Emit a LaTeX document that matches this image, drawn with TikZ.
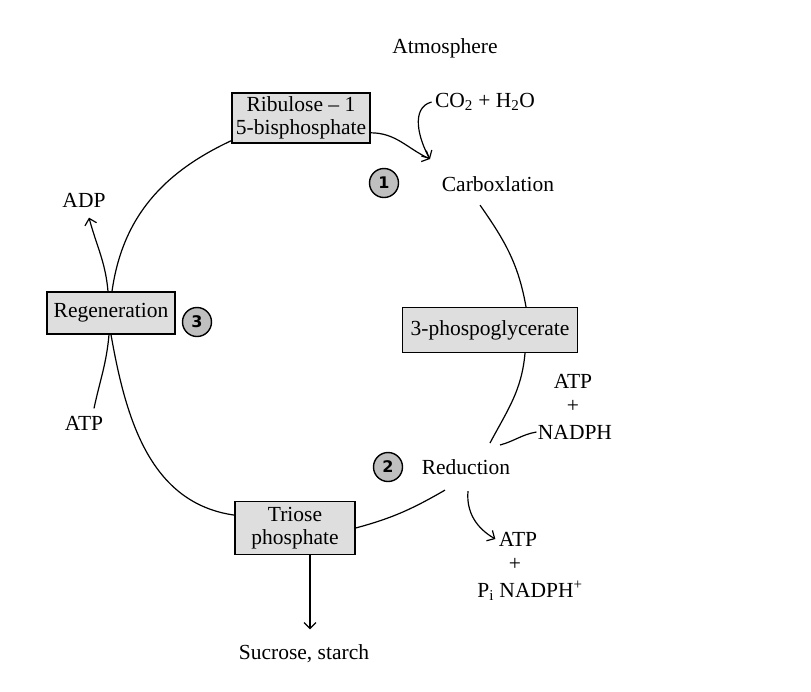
\documentclass[tikz,border=0pt]{standalone}
\usepackage{fontspec}
\setmainfont{Liberation Serif}
\newfontfamily\numfont{DejaVu Sans}
\usetikzlibrary{arrows.meta}

\tikzset{
    stagebox/.style={draw, line width=1.3pt, fill=black!13, inner sep=2pt, align=center},
    stepnum/.style={circle, draw, line width=1.4pt, fill=black!25, minimum size=29pt,
                    inner sep=0pt, font=\numfont\bfseries\fontsize{16}{16}\selectfont},
}

\begin{document}
\begin{tikzpicture}[x=1pt, y=-1pt]
\useasboundingbox (0,0) rectangle (811,691);

\begin{scope}[every node/.style={font=\fontsize{21.5}{23}\selectfont}]
    \node (atmos) at (445, 48) {Atmosphere};

    \node (ribulose) at (301, 118) [stagebox, minimum width=138pt, minimum height=50pt] {Ribulose -- 1\\5-bisphosphate};
    \node (co2) at (485, 102) {CO\textsubscript{2} + H\textsubscript{2}O};
    \node (c1) at (384, 183) [stepnum] {1};
    \node (carb) at (498, 184) {Carboxlation};

    \node (pga) at (490, 330) [stagebox, minimum width=175pt, minimum height=45pt] {3-phospoglycerate};
    \node (atp1) at (573, 381) {ATP};
    \node (plus1) at (573, 406) {+};
    \node (nadph) at (575, 432) {NADPH};

    \node (c2) at (388, 467) [stepnum] {2};
    \node (redn) at (466, 467) {Reduction};
    \node (atp2) at (518, 539) {ATP};
    \node (plus2) at (515, 564) {+};
    \node (pinadph) at (530, 591) {P\textsubscript{i} NADPH\textsuperscript{+}};

    \node (triose) at (295, 528) [stagebox, minimum width=120pt, minimum height=53pt] {Triose\\phosphate};
    \node (sucrose) at (304, 654) {Sucrose, starch};

    \node (regen) at (111, 313) [stagebox, minimum width=128pt, minimum height=42pt] {Regeneration};
    \node (c3) at (197, 322) [stepnum] {3};
    \node (adp) at (84, 200) {ADP};
    \node (atp3) at (84, 423) {ATP};

    \coordinate (tip) at (430, 159);
    \coordinate (redtop) at (490, 443);
    \coordinate (nadphend) at (500, 445);
\end{scope}

\begin{scope}[>={Straight Barb[length=6pt, width=12pt]},
              every edge/.style={draw, line width=1.2pt}]
    \path [->] (ribulose.-12) edge [out=0, in=155] (tip);
    \path [->] (co2.west) edge [out=195, in=120] (tip);

    \path (carb.south) ++(-18pt, -10pt) coordinate (carbout);
    \path [-] (carbout) edge [out=-55, in=100] ([xshift=36pt]pga.north);
    \path [-] ([xshift=35pt]pga.south) edge [out=-95, in=62] (redtop);
    \path [-] ([xshift=2pt]nadph.west) edge [out=190, in=15] (nadphend);

    \path [-] ([xshift=-21pt, yshift=-12pt]redn.south) edge [out=-150, in=15] (triose.east);
    \path [->] ([xshift=2pt, yshift=-13pt]redn.south) edge [out=-95, in=150] (atp2.west);
    \path [->] ([xshift=15pt]triose.south) edge ([xshift=6pt, yshift=12pt]sucrose.north);

    \path [-] (triose.168) edge [out=172, in=-80] (regen.south);
    \path [-] ([xshift=10pt, yshift=4pt]atp3.north) edge [out=78, in=-95] ([xshift=-2pt]regen.south);
    \path [->] ([xshift=-3pt]regen.north) edge [out=95, in=-75] ([xshift=5pt, yshift=-7pt]adp.south);
    \path [-] ([xshift=1pt]regen.north) edge [out=82, in=205] ([yshift=3pt]ribulose.south west);
\end{scope}
\end{tikzpicture}
\end{document}
